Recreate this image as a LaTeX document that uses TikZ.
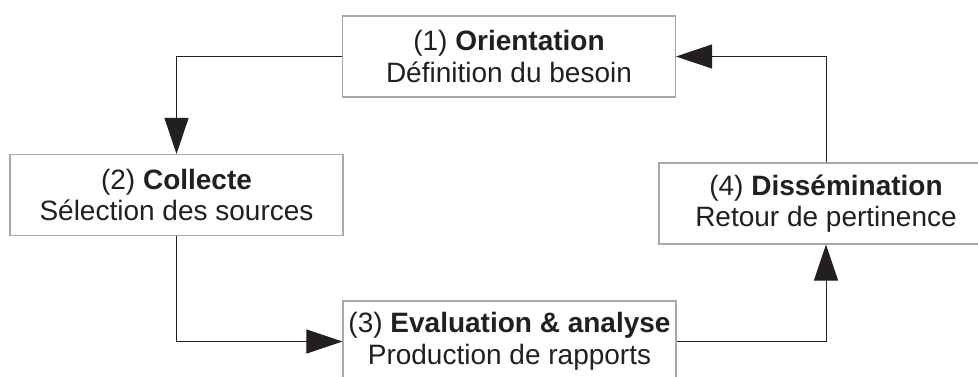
\documentclass[tikz,border=0pt]{standalone}
\usepackage{fontspec}
\setmainfont{Liberation Sans}
\usetikzlibrary{arrows.meta}
\definecolor{ink}{HTML}{231F20}
\definecolor{frame}{HTML}{A8A8A8}
\begin{document}
\begin{tikzpicture}[x=1pt,y=-1pt,
  stage/.style={draw=frame, line width=1.1pt, fill=white, text=ink,
    minimum width=333pt, minimum height=81pt, inner sep=0pt,
    align=center, font=\fontsize{28}{31.5}\selectfont},
  flow/.style={draw=ink, line width=0.9pt,
    -{Triangle[length=36pt,width=24pt]}}]
\useasboundingbox (0,0) rectangle (978,376);
\fill[white] (0,0) rectangle (978,376);

\node[stage] (orient) at (509,56.5) {(1) \textbf{Orientation}\\Définition du besoin};
\node[stage] (collect) at (176.5,195) {(2) \textbf{Collecte}\\Sélection des sources};
\node[stage] (eval) at (509.5,341.5) {(3) \textbf{Evaluation \& analyse}\\Production de rapports};
\node[stage, minimum width=334pt] (diss) at (826,203.5) {(4) \textbf{Dissémination}\\Retour de pertinence};

\draw[flow] (orient.west) -| (collect.north);
\draw[flow] (collect.south) |- (eval.west);
\draw[flow] (eval.east) -| (diss.south);
\draw[flow] (diss.north) |- (orient.east);
\end{tikzpicture}
\end{document}
